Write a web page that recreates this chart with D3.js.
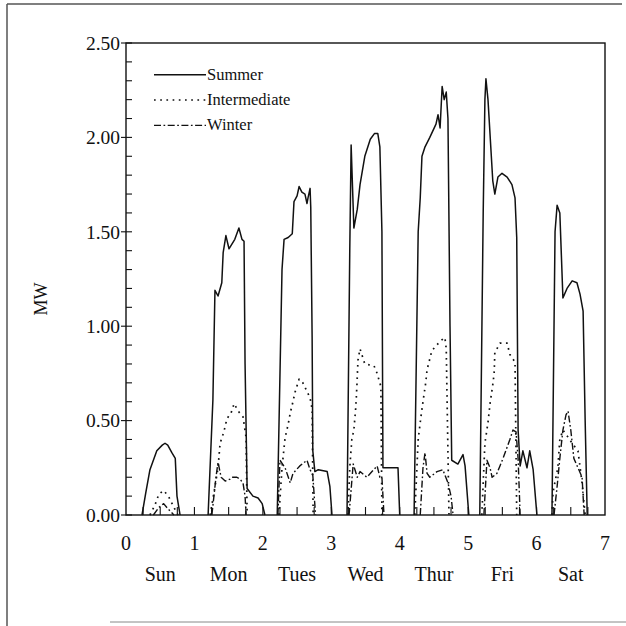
<!DOCTYPE html>
<html>
<head>
<meta charset="utf-8">
<script src="https://cdn.jsdelivr.net/npm/d3@7"></script>
<style>
  html, body { margin: 0; padding: 0; background: #fff; }
  svg { display: block; }
  text { font-family: "Liberation Serif", "DejaVu Serif", serif; fill: #111; }
</style>
</head>
<body>
<svg id="chart" width="626" height="626"></svg>
<script>
// ---- data (time in days from Sunday 0:00, power in MW) ----
const dayNames = ["Sun", "Mon", "Tues", "Wed", "Thur", "Fri", "Sat"];
const xTickValues = [0, 1, 2, 3, 4, 5, 6, 7];
const yTickValues = [0, 0.5, 1.0, 1.5, 2.0, 2.5];
const seriesNames = ["Summer", "Intermediate", "Winter"];

const summer = [
  [[0.234,0],[0.29,0.12],[0.35,0.24],[0.45,0.34],[0.53,0.37],[0.57,0.38],[0.61,0.37],[0.67,0.33],[0.72,0.30],[0.745,0.10],[0.79,0]],
  [[1.20,0],[1.27,0.61],[1.30,1.19],[1.345,1.16],[1.40,1.23],[1.42,1.39],[1.46,1.48],[1.505,1.41],[1.59,1.46],[1.65,1.52],[1.695,1.46],[1.725,1.45],[1.74,0.80],[1.77,0.14],[1.855,0.10],[1.93,0.09],[1.99,0.06],[2.03,0]],
  [[2.21,0],[2.28,1.30],[2.31,1.46],[2.37,1.47],[2.43,1.49],[2.455,1.66],[2.50,1.69],[2.53,1.74],[2.57,1.71],[2.615,1.70],[2.645,1.65],[2.66,1.68],[2.69,1.73],[2.70,1.63],[2.72,0.94],[2.73,0.34],[2.76,0.23],[2.81,0.24],[2.94,0.23],[2.98,0.15],[3.01,0]],
  [[3.23,0],[3.27,1.40],[3.29,1.96],[3.33,1.52],[3.38,1.62],[3.42,1.75],[3.49,1.90],[3.57,1.99],[3.63,2.02],[3.68,2.02],[3.71,1.95],[3.74,1.50],[3.755,0.25],[3.975,0.25],[4.00,0]],
  [[4.21,0],[4.27,1.50],[4.30,1.68],[4.325,1.90],[4.37,1.95],[4.44,2.00],[4.53,2.07],[4.56,2.12],[4.59,2.05],[4.62,2.27],[4.65,2.20],[4.68,2.24],[4.705,2.10],[4.735,1.00],[4.76,0.29],[4.85,0.27],[4.925,0.32],[4.955,0.26],[5.01,0]],
  [[5.17,0],[5.22,1.60],[5.245,2.20],[5.26,2.31],[5.29,2.20],[5.36,1.77],[5.39,1.70],[5.435,1.79],[5.495,1.81],[5.57,1.79],[5.64,1.75],[5.685,1.68],[5.71,1.47],[5.73,0.45],[5.76,0.26],[5.80,0.34],[5.86,0.25],[5.90,0.34],[5.95,0.24],[6.005,0]],
  [[6.225,0],[6.27,1.50],[6.30,1.64],[6.34,1.60],[6.385,1.15],[6.445,1.20],[6.52,1.24],[6.59,1.23],[6.635,1.17],[6.68,1.08],[6.71,0.50],[6.74,0]]
];

const intermediate = [
  [[0.35,0],[0.42,0.05],[0.48,0.11],[0.55,0.13],[0.62,0.10],[0.70,0.04],[0.76,0]],
  [[1.23,0],[1.30,0.15],[1.345,0.25],[1.375,0.38],[1.43,0.44],[1.475,0.51],[1.535,0.54],[1.58,0.59],[1.64,0.55],[1.71,0.52],[1.755,0.41],[1.77,0]],
  [[2.235,0],[2.28,0.25],[2.325,0.41],[2.37,0.48],[2.40,0.54],[2.44,0.60],[2.47,0.65],[2.53,0.72],[2.585,0.70],[2.69,0.62],[2.72,0.56],[2.735,0]],
  [[3.245,0],[3.27,0.25],[3.30,0.40],[3.33,0.45],[3.36,0.58],[3.375,0.69],[3.39,0.82],[3.42,0.88],[3.49,0.80],[3.625,0.79],[3.67,0.75],[3.725,0.68],[3.74,0]],
  [[4.22,0],[4.27,0.40],[4.31,0.52],[4.34,0.60],[4.38,0.70],[4.40,0.77],[4.47,0.87],[4.59,0.92],[4.66,0.94],[4.68,0.88],[4.72,0]],
  [[5.20,0],[5.245,0.38],[5.29,0.49],[5.32,0.59],[5.36,0.69],[5.38,0.75],[5.39,0.86],[5.465,0.91],[5.57,0.91],[5.61,0.85],[5.685,0.81],[5.71,0]],
  [[6.225,0],[6.24,0.12],[6.31,0.25],[6.34,0.40],[6.385,0.45],[6.445,0.42],[6.52,0.38],[6.605,0.34],[6.665,0.17],[6.71,0]]
];

const winter = [
  [[0.40,0],[0.48,0.04],[0.55,0.06],[0.62,0.03],[0.70,0]],
  [[1.255,0],[1.315,0.20],[1.345,0.28],[1.39,0.20],[1.45,0.18],[1.52,0.19],[1.55,0.20],[1.62,0.20],[1.665,0.19],[1.71,0.17],[1.74,0.10],[1.755,0]],
  [[2.22,0],[2.25,0.29],[2.325,0.25],[2.40,0.17],[2.44,0.22],[2.54,0.26],[2.645,0.29],[2.69,0.24],[2.73,0.21],[2.77,0]],
  [[3.26,0],[3.32,0.27],[3.38,0.20],[3.42,0.23],[3.52,0.20],[3.595,0.23],[3.67,0.26],[3.71,0.20],[3.74,0.20],[3.77,0]],
  [[4.30,0],[4.34,0.25],[4.37,0.33],[4.40,0.22],[4.44,0.20],[4.545,0.23],[4.63,0.24],[4.705,0.17],[4.75,0.10],[4.78,0]],
  [[5.23,0],[5.275,0.29],[5.32,0.25],[5.35,0.20],[5.42,0.22],[5.465,0.26],[5.51,0.30],[5.61,0.40],[5.655,0.45],[5.70,0.44],[5.73,0.30],[5.76,0]],
  [[6.255,0],[6.30,0.15],[6.34,0.30],[6.385,0.45],[6.43,0.53],[6.46,0.55],[6.50,0.45],[6.545,0.30],[6.605,0.25],[6.665,0.20],[6.695,0]]
];

// ---- layout ----
const svg = d3.select("#chart");
const X0 = 126, X1 = 605, Y0 = 515, Y1 = 43;
const x = d3.scaleLinear().domain([0, 7]).range([X0, X1]);
const y = d3.scaleLinear().domain([0, 2.5]).range([Y0, Y1]);

// outer frame (scanned page edge)
svg.append("line").attr("x1", 7).attr("y1", 4).attr("x2", 622).attr("y2", 4)
  .attr("stroke", "#555").attr("stroke-width", 1.5);
svg.append("line").attr("x1", 7).attr("y1", 4).attr("x2", 7).attr("y2", 626)
  .attr("stroke", "#555").attr("stroke-width", 1.5);
svg.append("line").attr("x1", 110).attr("y1", 622).attr("x2", 626).attr("y2", 622)
  .attr("stroke", "#888").attr("stroke-width", 1);

// plot box
svg.append("rect").attr("x", X0).attr("y", Y1).attr("width", X1 - X0).attr("height", Y0 - Y1)
  .attr("fill", "none").attr("stroke", "#111").attr("stroke-width", 1.4);

// y axis: minor ticks inward every 0.1, major at 0.5
const yMinor = d3.range(0, 2.5001, 0.1);
svg.append("g").selectAll("line").data(yMinor).join("line")
  .attr("x1", X0).attr("x2", X0 + 6)
  .attr("y1", d => y(d)).attr("y2", d => y(d))
  .attr("stroke", "#111").attr("stroke-width", 1.1);
svg.append("g").selectAll("line").data(yTickValues).join("line")
  .attr("x1", X0 - 5).attr("x2", X0)
  .attr("y1", d => y(d)).attr("y2", d => y(d))
  .attr("stroke", "#111").attr("stroke-width", 1.1);
svg.append("g").selectAll("text").data(yTickValues).join("text")
  .attr("x", X0 - 6).attr("y", d => y(d))
  .attr("dy", "0.35em").attr("text-anchor", "end")
  .attr("font-size", 19.5)
  .text(d3.format(".2f"));

// x axis: ticks inward every 0.25 day
const xMinor = d3.range(0.25, 7, 0.25);
svg.append("g").selectAll("line").data(xMinor).join("line")
  .attr("x1", d => x(d)).attr("x2", d => x(d))
  .attr("y1", Y0).attr("y2", Y0 - 8)
  .attr("stroke", "#111").attr("stroke-width", 1.1);
svg.append("g").selectAll("text").data(xTickValues).join("text")
  .attr("x", d => x(d)).attr("y", 543)
  .attr("dy", "0.35em").attr("text-anchor", "middle")
  .attr("font-size", 20)
  .text(d => d);
svg.append("g").selectAll("text").data(dayNames).join("text")
  .attr("x", (d, i) => x(i + 0.5)).attr("y", 574)
  .attr("dy", "0.35em").attr("text-anchor", "middle")
  .attr("font-size", 20)
  .text(d => d);

// y label
svg.append("text")
  .attr("transform", `translate(41,${(Y0 + Y1) / 2 + 20}) rotate(-90)`)
  .attr("text-anchor", "middle").attr("dy", "0.35em")
  .attr("font-size", 18)
  .text("MW");

// series
const styles = {
  Summer: { dash: null, width: 1.5 },
  Intermediate: { dash: "1.7,4.5", width: 1.7 },
  Winter: { dash: "7,2.5,1.7,2.5", width: 1.4 }
};
const line = d3.line().x(d => x(d[0])).y(d => y(d[1]));
const seriesData = { Summer: summer, Intermediate: intermediate, Winter: winter };

const plot = svg.append("g");
["Winter", "Intermediate", "Summer"].forEach(name => {
  plot.append("g").selectAll("path").data(seriesData[name]).join("path")
    .attr("d", line)
    .attr("fill", "none")
    .attr("stroke", "#111")
    .attr("stroke-width", styles[name].width)
    .attr("stroke-dasharray", styles[name].dash)
    .attr("stroke-linejoin", "round");
});

// legend
const legendY = d3.scaleBand().domain(seriesNames).range([62, 138]);
const leg = svg.append("g");
seriesNames.forEach(name => {
  const yy = legendY(name) + legendY.bandwidth() / 2;
  leg.append("line")
    .attr("x1", 154).attr("x2", 206).attr("y1", yy).attr("y2", yy)
    .attr("stroke", "#111")
    .attr("stroke-width", styles[name].width)
    .attr("stroke-dasharray", styles[name].dash);
  leg.append("text")
    .attr("x", 207).attr("y", yy)
    .attr("dy", "0.3em")
    .attr("font-size", 16.5)
    .text(name);
});
</script>
</body>
</html>
